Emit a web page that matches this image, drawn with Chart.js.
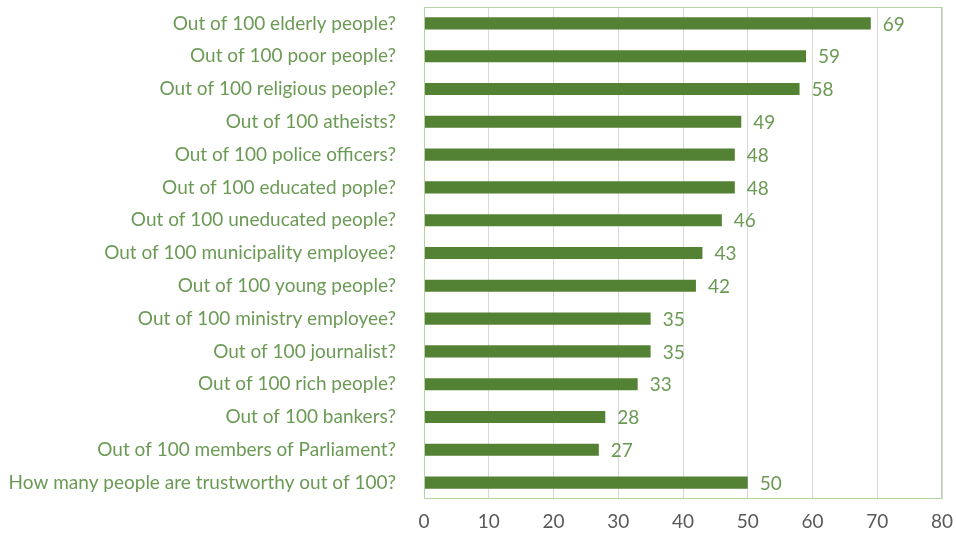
<!DOCTYPE html>
<html>
<head>
<meta charset="utf-8">
<script src="https://cdn.jsdelivr.net/npm/chart.js@4.4.0/dist/chart.umd.min.js"></script>
<style>
	html, body { margin: 0; padding: 0; background: #fff; }
	#wrap { width: 956px; height: 540px; }
</style>
</head>
<body>
<div id="wrap"><canvas id="trustChart" width="956" height="540"></canvas></div>
<script>
const questions = [
	"Out of 100 elderly people?",
	"Out of 100 poor people?",
	"Out of 100 religious people?",
	"Out of 100 atheists?",
	"Out of 100 police officers?",
	"Out of 100 educated pople?",
	"Out of 100 uneducated people?",
	"Out of 100 municipality employee?",
	"Out of 100 young people?",
	"Out of 100 ministry employee?",
	"Out of 100 journalist?",
	"Out of 100 rich people?",
	"Out of 100 bankers?",
	"Out of 100 members of Parliament?",
	"How many people are trustworthy out of 100?"
];
const trustValues = [69, 59, 58, 49, 48, 48, 46, 43, 42, 35, 35, 33, 28, 27, 50];
const xTicks = [0, 10, 20, 30, 40, 50, 60, 70, 80];

const labelGreen = "#6b9a55";
const barGreen = "#548235";

// valeurs au bout des barres + cadre vert
const valueLabels = {
	id: "valueLabels",
	afterDatasetsDraw(chart) {
		const ctx = chart.ctx;
		const meta = chart.getDatasetMeta(0);
		ctx.save();
		ctx.font = "19px Lato";
		ctx.fillStyle = labelGreen;
		ctx.textAlign = "left";
		ctx.textBaseline = "middle";
		meta.data.forEach((bar, i) => {
			ctx.fillText(trustValues[i], bar.x + 12, bar.y + 1);
		});
		const a = chart.chartArea;
		ctx.strokeStyle = "#b5d3a0";
		ctx.lineWidth = 1;
		ctx.strokeRect(a.left + 0.5, a.top + 0.5, a.right - a.left - 1, a.bottom - a.top - 1);
		ctx.restore();
	}
};

new Chart(document.getElementById("trustChart"), {
	type: "bar",
	data: {
		labels: questions,
		datasets: [
			{
				data: trustValues,
				backgroundColor: barGreen,
				borderWidth: 0,
				barPercentage: 0.74,
				categoryPercentage: 0.5
			}
		]
	},
	options: {
		indexAxis: "y",
		responsive: false,
		animation: false,
		layout: { padding: { top: 7, right: 14, bottom: 0, left: 4 } },
		plugins: { legend: { display: false }, tooltip: { enabled: false } },
		scales: {
			x: {
				min: 0,
				max: 80,
				afterBuildTicks: (scale) => { scale.ticks = xTicks.map((v) => ({ value: v })); },
				grid: { color: "#d9d9d9", drawTicks: false },
				border: { display: false },
				ticks: { color: "#595959", font: { family: "Lato", size: 19 }, padding: 11 },
				afterFit: (scale) => {
					scale.height = 41;
					scale.paddingLeft = 0;
					scale.paddingRight = 0;
				}
			},
			y: {
				grid: { display: false },
				border: { display: false },
				ticks: { color: labelGreen, font: { family: "Lato", size: 19 }, padding: 20, autoSkip: false },
				afterFit: (scale) => {
					scale.width = 420;
					scale.paddingTop = 0;
					scale.paddingBottom = 0;
				}
			}
		}
	},
	plugins: [valueLabels]
});
</script>
</body>
</html>
